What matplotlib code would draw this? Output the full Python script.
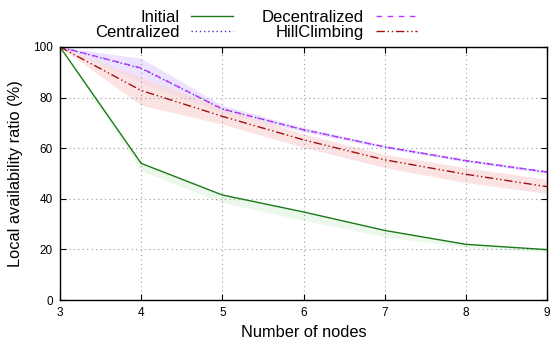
import numpy as np
import matplotlib
matplotlib.use('Agg')
import matplotlib.pyplot as plt

plt.rcParams['font.family'] = ['Liberation Sans', 'DejaVu Sans']

nodes = [3, 4, 5, 6, 7, 8, 9]

initial = [100, 54, 41.5, 34.8, 27.5, 22, 19.9]
initial_lo = [100, 51, 38.5, 31.5, 25, 20.8, 19]

centralized = [100, 91.5, 75.5, 67.3, 60.5, 55, 50.5]

decentralized = [100, 91.7, 75.5, 67.3, 60.5, 55.1, 50.6]
dec_lo = [100, 86, 74, 66.5, 60, 54.5, 50]
dec_hi = [100, 95.5, 77, 68.2, 61.2, 55.8, 51.2]

hill = [100, 82.8, 72.6, 63.3, 55.4, 49.7, 44.8]
hill_lo = [100, 77, 69.5, 60.3, 52.3, 46.4, 42.1]
hill_hi = [100, 88, 76, 65.6, 57.6, 52.3, 47.7]

fig = plt.figure(figsize=(5.52, 3.42), dpi=100)
ax = fig.add_axes([0.1087, 0.1228, 0.8823, 0.7398])

# bands
ax.fill_between(nodes, dec_lo, dec_hi, color='#eadcff', alpha=0.8, lw=0)
ax.fill_between(nodes, hill_lo, hill_hi, color='#fcd8d8', alpha=0.7, lw=0)
ax.fill_between(nodes, initial_lo, initial, color='#e6f7e6', alpha=0.8, lw=0)

l1, = ax.plot(nodes, initial, color='#1a7a1a', lw=1.0, ls='-', label='Initial')
l2, = ax.plot(nodes, centralized, color='#3a3ad8', lw=1.0, ls=(0, (1, 2)), label='Centralized')
l3, = ax.plot(nodes, decentralized, color='#c030ff', lw=1.0, ls=(0, (4, 4)), label='Decentralized')
l4, = ax.plot(nodes, hill, color='#a01010', lw=1.0, ls=(0, (6, 2, 1, 2, 1, 2)), label='HillClimbing')

ax.set_xlim(3, 9)
ax.set_ylim(0, 100)
ax.set_xticks(nodes)
ax.set_yticks([0, 20, 40, 60, 80, 100])
ax.tick_params(direction='in', top=True, right=True, length=4, labelsize=8.5, pad=5)
ax.grid(True, ls=(0, (1, 3)), color='#999999', lw=0.8)
for s in ax.spines.values():
    s.set_linewidth(1.0)

ax.set_xlabel('Number of nodes', fontsize=11.8, labelpad=4)
ax.set_ylabel('Local availability ratio (%)', fontsize=11.8, labelpad=7)

fig.legend(handles=[l1, l2, l3, l4], ncol=2, frameon=False, markerfirst=False,
           loc='upper left', bbox_to_anchor=(0.172, 0.972), fontsize=12,
           borderpad=0, borderaxespad=0,
           handlelength=2.5, columnspacing=1.75, labelspacing=0.0, handletextpad=0.7)

fig.savefig('out.png', dpi=100)
